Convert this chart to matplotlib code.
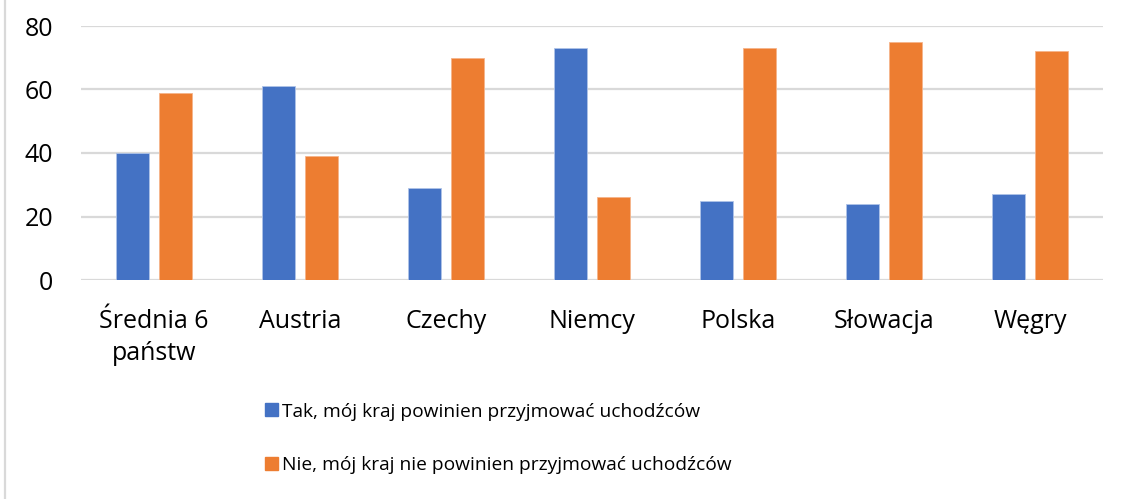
import numpy as np
import matplotlib.pyplot as plt
from matplotlib.lines import Line2D
from matplotlib.patches import Patch

plt.rcParams['font.family'] = ['Open Sans', 'DejaVu Sans']

categories = ["Średnia 6\npaństw", "Austria", "Czechy", "Niemcy", "Polska", "Słowacja", "Węgry"]
tak = [40, 61, 29, 73, 25, 24, 27]
nie = [59, 39, 70, 26, 73, 75, 72]
series_labels = ["Tak, mój kraj powinien przyjmować uchodźców",
                 "Nie, mój kraj nie powinien przyjmować uchodźców"]
yticks = [0, 20, 40, 60, 80]

blue = '#4472C4'
orange = '#ED7D31'
grid = '#D9D9D9'

fig = plt.figure(figsize=(11.26, 4.99), dpi=100)
ax = fig.add_axes([81 / 1126, 1 - 280 / 499, 1022 / 1126, 254 / 499])

x = np.arange(len(categories))
w = 0.225
ax.bar(x - 0.145, tak, w, color=blue, edgecolor='#AFC3E8', linewidth=0.6, zorder=3)
ax.bar(x + 0.145, nie, w, color=orange, edgecolor='#F5B48A', linewidth=0.6, zorder=3)

ax.set_xlim(-0.5, len(categories) - 0.5)
ax.set_ylim(0, 80)
ax.set_yticks(yticks)
ax.set_xticks(x)
ax.set_xticklabels(categories, linespacing=1.38)
ax.tick_params(axis='y', length=0, pad=20, labelsize=18, labelcolor='#000000')
ax.tick_params(axis='x', length=0, pad=21, labelsize=18, labelcolor='#000000')
ax.grid(axis='y', color=grid, linewidth=1.6, zorder=0)
for s in ax.spines.values():
    s.set_visible(False)

# left border of the chart area
fig.add_artist(Line2D([5 / 1126, 5 / 1126], [0, 1], color=grid, linewidth=1.6,
                      transform=fig.transFigure))

handles = [Patch(color=blue), Patch(color=orange)]
fig.legend(handles, series_labels, loc='upper left',
           bbox_to_anchor=(257 / 1126, 1 - 395 / 499), frameon=False,
           fontsize=13.8, handlelength=0.67, handleheight=0.67,
           handletextpad=0.25, labelspacing=1.85, borderaxespad=0)

fig.savefig('out.png', dpi=100)
